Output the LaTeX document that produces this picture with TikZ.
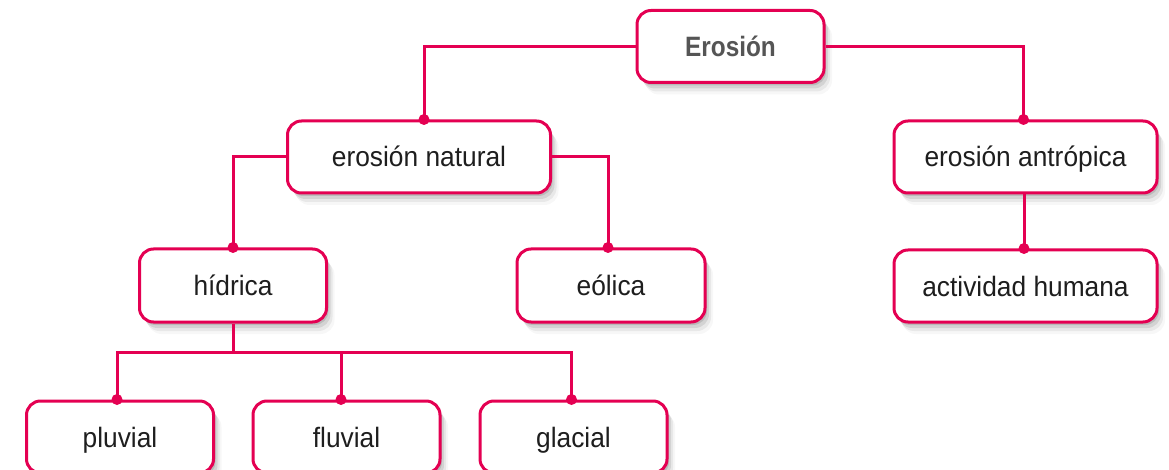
\documentclass[tikz,border=0pt]{standalone}
\usepackage{fontspec}
\setmainfont{Liberation Sans}
\newfontfamily\boxfont[FakeStretch=0.94]{Liberation Sans}
\newfontfamily\titlefont[FakeStretch=0.87]{Liberation Sans Bold}
\usetikzlibrary{shadows}
\definecolor{linkred}{RGB}{228,0,82}
\definecolor{txtgray}{RGB}{30,30,30}
\definecolor{titlegray}{RGB}{85,85,85}
\tikzset{
  box/.style={rectangle, rounded corners=14pt, draw=linkred, line width=3pt,
    fill=white, inner sep=0pt, minimum height=72pt, text=txtgray,
    text height=25pt, text depth=5pt,
    font=\boxfont\fontsize{28}{32}\selectfont,
    drop shadow={shadow xshift=2pt, shadow yshift=-3pt, opacity=.12, fill=black},
    drop shadow={shadow xshift=4pt, shadow yshift=-6pt, opacity=.09, fill=black},
    drop shadow={shadow xshift=6pt, shadow yshift=-9pt, opacity=.06, fill=black},
    drop shadow={shadow xshift=8pt, shadow yshift=-12pt, opacity=.03, fill=black}},
  link/.style={draw=linkred, line width=3pt},
  dotmark/.style={fill=linkred},
}
\begin{document}
\begin{tikzpicture}[x=1pt,y=-1pt]
\useasboundingbox (0,0) rectangle (1169,470);
\node[box, minimum width=187pt, text=titlegray, font=\titlefont\fontsize{28}{32}\selectfont] (ero) at (730.5,46.5) {Erosión};
\node[box, minimum width=263pt] (nat) at (419,157) {erosión natural};
\node[box, minimum width=263pt] (ant) at (1025.5,157) {erosión antrópica};
\node[box, minimum width=187pt, minimum height=73pt] (hid) at (233,285.5) {hídrica};
\node[box, minimum width=188pt, minimum height=73pt] (eol) at (611,285.5) {eólica};
\node[box, minimum width=263pt] (hum) at (1025.5,286) {actividad humana};
\node[box, minimum width=187pt] (plu) at (120,437) {pluvial};
\node[box, minimum width=187pt] (flu) at (346.5,437) {fluvial};
\node[box, minimum width=187pt] (gla) at (573.5,437) {glacial};
\coordinate (bus) at (233,352.5);
\draw[link] (ero.west) -| ([xshift=5pt]nat.north);
\draw[link] (ero.east) -| ([xshift=-2pt]ant.north);
\draw[link] (nat.west) -| (hid.north);
\draw[link] (nat.east) -| ([xshift=-3pt]eol.north);
\draw[link] ([xshift=-1.5pt]ant.south) -- ([xshift=-1.5pt]hum.north);
\draw[link] (hid.south) -- (bus);
\draw[link] ([xshift=-3pt]plu.north) |- (bus) -| ([xshift=-2pt]gla.north);
\draw[link] ([xshift=-5.5pt]flu.north) -- ([xshift=-5.5pt]flu.north |- bus);
\fill[dotmark] ([xshift=5pt]nat.north) circle (5.5pt);
\fill[dotmark] ([xshift=-2pt]ant.north) circle (5.5pt);
\fill[dotmark] (hid.north) circle (5.5pt);
\fill[dotmark] ([xshift=-3pt]eol.north) circle (5.5pt);
\fill[dotmark] ([xshift=-1.5pt]hum.north) circle (5.5pt);
\fill[dotmark] ([xshift=-3pt]plu.north) circle (5.5pt);
\fill[dotmark] ([xshift=-5.5pt]flu.north) circle (5.5pt);
\fill[dotmark] ([xshift=-2pt]gla.north) circle (5.5pt);
\end{tikzpicture}
\end{document}
